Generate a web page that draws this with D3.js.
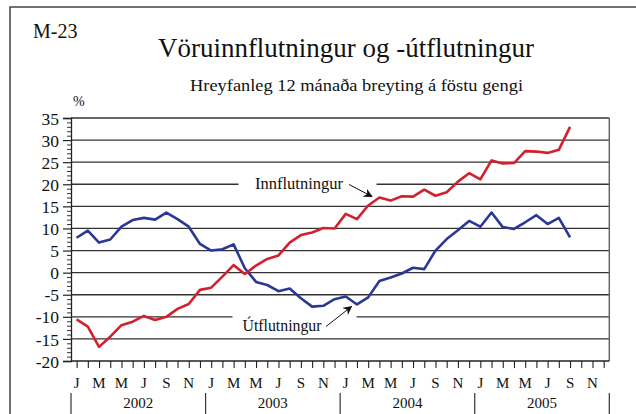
<!DOCTYPE html>
<html><head><meta charset="utf-8">
<script src="https://cdn.jsdelivr.net/npm/d3@7"></script>
<style>body{margin:0;background:#fff}svg{display:block}svg text{font-family:"Liberation Serif","Times New Roman",serif !important;fill:#111}</style>
</head><body><svg id="c" width="636" height="414"></svg>
<script>
const years = ["2002","2003","2004","2005"];
const monthLetters = ["J","F","M","A","M","J","J","A","S","O","N","D"];
const imports = [-10.6,-12.2,-16.8,-14.5,-11.9,-11.1,-9.8,-10.7,-10.0,-8.2,-7.1,-3.9,
  -3.4,-0.9,1.7,-0.3,1.6,3.1,3.9,6.8,8.5,9.1,10.1,10.0,
  13.3,12.1,15.2,17.0,16.3,17.3,17.2,18.8,17.4,18.2,20.6,22.5,
  21.1,25.4,24.7,24.8,27.5,27.4,27.1,27.8,33.0];
const exports_ = [7.9,9.5,6.8,7.5,10.4,11.9,12.4,12.0,13.6,12.1,10.4,6.5,
  5.0,5.3,6.4,1.0,-2.1,-2.8,-4.2,-3.6,-5.8,-7.7,-7.5,-6.0,
  -5.4,-7.2,-5.6,-1.9,-1.1,-0.2,1.1,0.8,5.0,7.6,9.6,11.7,
  10.4,13.6,10.3,9.9,11.4,13.0,11.0,12.4,8.0];
const yTicks = [-20,-15,-10,-5,0,5,10,15,20,25,30,35];
const labels = {code:"M-23", title:"Vöruinnflutningur og -útflutningur",
  subtitle:"Hreyfanleg 12 mánaða breyting á föstu gengi", unit:"%",
  imp:"Innflutningur", exp:"Útflutningur"};

const FONT = '"Liberation Serif","Times New Roman",serif';
const svg = d3.select("#c");
const nMonths = years.length*12;
const L=71, R=609.3, T=118, B=361;
const x = d3.scaleLinear().domain([-0.5, nMonths-0.5]).range([L, R]);
const y = d3.scaleLinear().domain([-20, 35]).range([B, T]);

// outer frame
svg.append("path").attr("d","M10,414V7H636").attr("fill","none").attr("stroke","#444").attr("stroke-width",1.5);

// titles
svg.append("text").attr("x",33).attr("y",38).attr("font-size",20).text(labels.code);
svg.append("text").attr("x",158).attr("y",57).attr("font-size",28).attr("textLength",376).attr("lengthAdjust","spacingAndGlyphs").text(labels.title);
svg.append("text").attr("x",190).attr("y",91).attr("font-size",17.5).attr("textLength",333).attr("lengthAdjust","spacingAndGlyphs").text(labels.subtitle);
svg.append("text").attr("x",73).attr("y",106).attr("font-size",14).text(labels.unit);

// gridlines (broken at the annotation rows)
const breaks = {20:[238.5,376.5], "-10":[232.5,356.5]};
yTicks.filter(v=>v>-20).forEach(v=>{
  const yy=y(v);
  const col = "#333";
  if(breaks[v]){
    svg.append("line").attr("x1",L).attr("x2",breaks[v][0]).attr("y1",yy).attr("y2",yy).attr("stroke",col).attr("stroke-width",1.3);
    svg.append("line").attr("x1",breaks[v][1]).attr("x2",R).attr("y1",yy).attr("y2",yy).attr("stroke",col).attr("stroke-width",1.3);
  } else {
    svg.append("line").attr("x1",L).attr("x2",R).attr("y1",yy).attr("y2",yy).attr("stroke",col).attr("stroke-width",1.3);
  }
});
// right border
svg.append("line").attr("x1",R).attr("x2",R).attr("y1",T).attr("y2",B).attr("stroke","#666").attr("stroke-width",1.5);

// y axis
const ya = svg.append("g").attr("transform",`translate(${L},0)`)
  .call(d3.axisLeft(y).tickValues(yTicks).tickSize(8).tickFormat(d=>d));
ya.attr("font-family",null).attr("font-size",null);
ya.select(".domain").attr("stroke","#222").attr("stroke-width",1.3);
ya.selectAll(".tick line").attr("stroke","#222").attr("stroke-width",1.2);
ya.selectAll(".tick text").style("font-family",FONT).style("font-size","17.5px").attr("fill","#111").attr("x",-12).attr("dy","0.35em");
const minor = d3.range(-20,35,1).filter(v=>v%5!==0);
svg.append("g").attr("transform",`translate(${L},0)`)
  .call(d3.axisLeft(y).tickValues(minor).tickSize(4).tickFormat(""))
  .call(g=>{g.select(".domain").remove();g.selectAll("line").attr("stroke","#333").attr("stroke-width",1);});

// x axis
const xa = svg.append("g").attr("transform",`translate(0,${B})`)
  .call(d3.axisBottom(x).tickValues(d3.range(nMonths)).tickSize(7).tickFormat(""));
xa.select(".domain").attr("d",`M${L},0H${R}`).attr("stroke","#222").attr("stroke-width",1.4);
xa.selectAll(".tick line").attr("stroke","#222").attr("stroke-width",1.1);

// month labels
const monthIdx = d3.range(nMonths).filter(i=>i%2===0);
svg.append("g").selectAll("text").data(monthIdx).join("text")
  .attr("x",i=>x(i)).attr("y",388).attr("text-anchor","middle").style("font-family",FONT).style("font-size","15px")
  .text(i=>monthLetters[i%12]);
// year labels & separators
svg.append("g").selectAll("text").data(years).join("text")
  .attr("x",(d,k)=>x(12*k+5.5)).attr("y",408).attr("text-anchor","middle").style("font-family",FONT).style("font-size","15px").text(d=>d);
svg.append("g").selectAll("line").data(d3.range(years.length+1)).join("line")
  .attr("x1",k=>x(12*k-0.5)).attr("x2",k=>x(12*k-0.5)).attr("y1",393).attr("y2",414)
  .attr("stroke","#333").attr("stroke-width",1.2);

// lines
const line = d3.line().x((d,i)=>x(i)).y(d=>y(d));
svg.append("path").datum(exports_).attr("d",line).attr("fill","none").attr("stroke","#2b3796").attr("stroke-width",2.6).attr("stroke-linejoin","round");
svg.append("path").datum(imports).attr("d",line).attr("fill","none").attr("stroke","#d2202e").attr("stroke-width",2.6).attr("stroke-linejoin","round");

// annotations
svg.append("defs").append("marker").attr("id","ah").attr("viewBox","0 0 10 10").attr("refX",9).attr("refY",5)
  .attr("markerWidth",9).attr("markerHeight",9).attr("markerUnits","userSpaceOnUse").attr("orient","auto")
  .append("path").attr("d","M0,0L10,5L0,10L3,5Z").attr("fill","#111");
svg.append("text").attr("x",255).attr("y",189).attr("font-size",16.5).attr("textLength",88).attr("lengthAdjust","spacingAndGlyphs").text(labels.imp);
svg.append("line").attr("x1",349).attr("y1",184.5).attr("x2",372).attr("y2",196.5).attr("stroke","#111").attr("stroke-width",1).attr("marker-end","url(#ah)");
svg.append("text").attr("x",242.5).attr("y",331).attr("font-size",16.5).attr("textLength",79).attr("lengthAdjust","spacingAndGlyphs").text(labels.exp);
svg.append("line").attr("x1",326).attr("y1",326.5).attr("x2",351.5).attr("y2",306.5).attr("stroke","#111").attr("stroke-width",1).attr("marker-end","url(#ah)");
</script></body></html>
